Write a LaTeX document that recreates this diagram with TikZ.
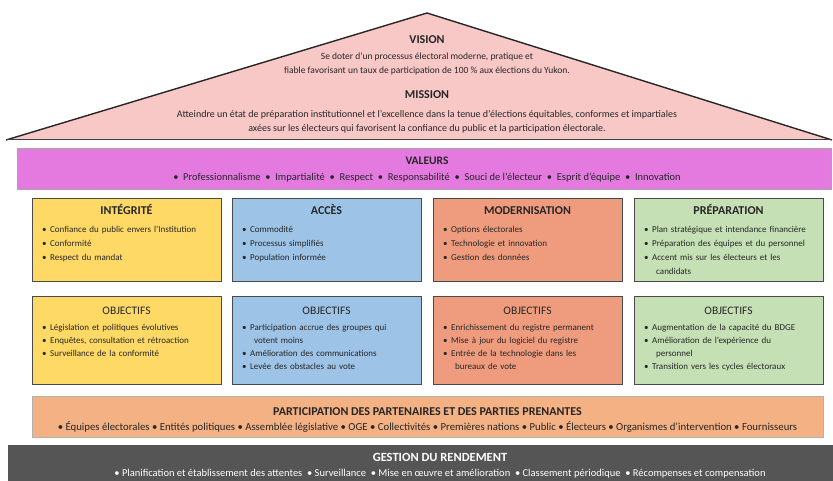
\documentclass[tikz,border=0pt]{standalone}
\usepackage{fontspec}
\setmainfont{Carlito}
\definecolor{roofpink}{HTML}{F8C8C6}
\definecolor{valmag}{HTML}{E47AE0}
\definecolor{cyellow}{HTML}{FFD966}
\definecolor{cblue}{HTML}{9DC3E6}
\definecolor{csalmon}{HTML}{EF9C7E}
\definecolor{cgreen}{HTML}{C5E0B4}
\definecolor{ctan}{HTML}{F4B183}
\definecolor{cdark}{HTML}{555555}
\definecolor{txt}{HTML}{262626}
\definecolor{edge}{HTML}{4A4A4A}
\newcommand\bitem[1]{\par\hangindent=12pt\hangafter=1\noindent\strut\makebox[8pt][l]{\textbullet}#1}
\newcommand\fs[2]{\fontsize{#1}{#2}\selectfont}
\begin{document}
\begin{tikzpicture}[x=1pt,y=-1pt,
  box/.style={draw=edge, line width=0.8pt, inner sep=0pt, minimum width=189pt},
  rowone/.style={box, minimum height=83pt},
  rowtwo/.style={box, minimum height=88pt},
  band/.style={draw=#1, line width=0.8pt, inner sep=0pt},
  txtline/.style={anchor=base, inner sep=0pt, text=txt},
  ttl/.style={txtline, font=\bfseries\fs{12}{14}},
  obj/.style={txtline, font=\fs{11.5}{13}},
  listA/.style={anchor=north west, inner sep=0pt, text width=180pt, align=left, text=txt, font=\fs{9}{14}},
  listB/.style={listA, font=\fs{9}{13}},
  rooftxt/.style={txtline, font=\fs{9.5}{11}},
  missiontxt/.style={txtline, font=\fs{10}{12}},
  rooftitle/.style={txtline, font=\bfseries\fs{12}{14}},
]
\useasboundingbox (0,0) rectangle (833,481);
% roof
\coordinate (apex) at (427,13);
\coordinate (rl) at (6,140);
\coordinate (rr) at (832,140);
\fill[roofpink] (rl) -- (apex) -- (rr) -- cycle;
\draw[line width=1.4pt, black!85] (rl) -- (apex) -- (rr);
\draw[line width=1pt, black!75] (rl) -- (rr);
\node[rooftitle] (vision) at (427,44) {VISION};
\node[rooftxt] (v1) at (427,60) {Se doter d'un processus électoral moderne, pratique et};
\node[rooftxt] (v2) at (427,74) {fiable favorisant un taux de participation de 100 \% aux élections du Yukon.};
\node[rooftitle] (mission) at (427,99) {MISSION};
\node[missiontxt] (m1) at (427,117.5) {Atteindre un état de préparation institutionnel et l'excellence dans la tenue d'élections équitables, conformes et impartiales};
\node[missiontxt] (m2) at (427,131.5) {axées sur les électeurs qui favorisent la confiance du public et la participation électorale.};
% valeurs
\node[band=gray!70, fill=valmag, minimum width=814pt, minimum height=41pt] (valeurs) at (424,168.5) {};
\node[txtline, font=\bfseries\fs{11.5}{13}] (valT) at (427,165) {VALEURS};
\node[txtline, font=\fs{10.5}{12}] (valL) at (427,181) {•\ \ Professionnalisme\ \ •\ \ Impartialité\ \ •\ \ Respect\ \ •\ \ Responsabilité\ \ •\ \ Souci de l'électeur\ \ •\ \ Esprit d'équipe\ \ •\ \ Innovation};
% row one
\node[rowone, fill=cyellow] (integ) at (126.5,239.5) {};
\node[rowone, fill=cblue] (acces) at (326.5,239.5) {};
\node[rowone, fill=csalmon] (modern) at (527.5,239.5) {};
\node[rowone, fill=cgreen] (prep) at (728.5,239.5) {};
\node[ttl] (integT) at (126.5,215) {INTÉGRITÉ};
\node[ttl] (accesT) at (326.5,215) {ACCÈS};
\node[ttl] (modernT) at (527.5,215) {MODERNISATION};
\node[ttl] (prepT) at (728.5,215) {PRÉPARATION};
\node[listA] (integL) at (42,218.8) {\bitem{Confiance du public envers l'Institution}\bitem{Conformité}\bitem{Respect du mandat}\par};
\node[listA] (accesL) at (242,218.8) {\bitem{Commodité}\bitem{Processus simplifiés}\bitem{Population informée}\par};
\node[listA] (modernL) at (443,218.8) {\bitem{Options électorales}\bitem{Technologie et innovation}\bitem{Gestion des données}\par};
\node[listA] (prepL) at (644,218.8) {\bitem{Plan stratégique et intendance financière}\bitem{Préparation des équipes et du personnel}\bitem{Accent mis sur les électeurs et les\newline candidats}\par};
% row two
\node[rowtwo, fill=cyellow] (integO) at (126.5,340) {};
\node[rowtwo, fill=cblue] (accesO) at (326.5,340) {};
\node[rowtwo, fill=csalmon] (modernO) at (527.5,340) {};
\node[rowtwo, fill=cgreen] (prepO) at (728.5,340) {};
\node[obj] (integOT) at (126.5,314) {OBJECTIFS};
\node[obj] (accesOT) at (326.5,314) {OBJECTIFS};
\node[obj] (modernOT) at (527.5,314) {OBJECTIFS};
\node[obj] (prepOT) at (728.5,314) {OBJECTIFS};
\node[listB] (integOL) at (42,317.5) {\bitem{Législation et politiques évolutives}\bitem{Enquêtes, consultation et rétroaction}\bitem{Surveillance de la conformité}\par};
\node[listB] (accesOL) at (242,317.5) {\bitem{Participation accrue des groupes qui\newline votent moins}\bitem{Amélioration des communications}\bitem{Levée des obstacles au vote}\par};
\node[listB] (modernOL) at (443,317.5) {\bitem{Enrichissement du registre permanent}\bitem{Mise à jour du logiciel du registre}\bitem{Entrée de la technologie dans les\newline bureaux de vote}\par};
\node[listB] (prepOL) at (644,317.5) {\bitem{Augmentation de la capacité du BDGE}\bitem{Amélioration de l'expérience du\newline personnel}\bitem{Transition vers les cycles électoraux}\par};
% partners
\node[band=gray!60, fill=ctan, minimum width=791pt, minimum height=41pt] (part) at (427.5,416.5) {};
\node[txtline, font=\bfseries\fs{12}{14}] (partT) at (427.5,415) {PARTICIPATION DES PARTENAIRES ET DES PARTIES PRENANTES};
\node[txtline, font=\fs{10.75}{12}] (partL) at (427.5,430.5) {• Équipes électorales • Entités politiques • Assemblée législative • OGE • Collectivités • Premières nations • Public • Électeurs • Organismes d'intervention • Fournisseurs};
% gestion
\node[fill=cdark, inner sep=0pt, minimum width=826pt, minimum height=37pt] (gest) at (421,463.5) {};
\node[txtline, text=white, font=\bfseries\fs{12.5}{14}] (gestT) at (440,461) {GESTION DU RENDEMENT};
\node[txtline, text=white, font=\fs{10.5}{12}] (gestL) at (440,476.5) {• Planification et établissement des attentes \ • Surveillance \ • Mise en œuvre et amélioration \ • Classement périodique \ • Récompenses et compensation};
\end{tikzpicture}
\end{document}
